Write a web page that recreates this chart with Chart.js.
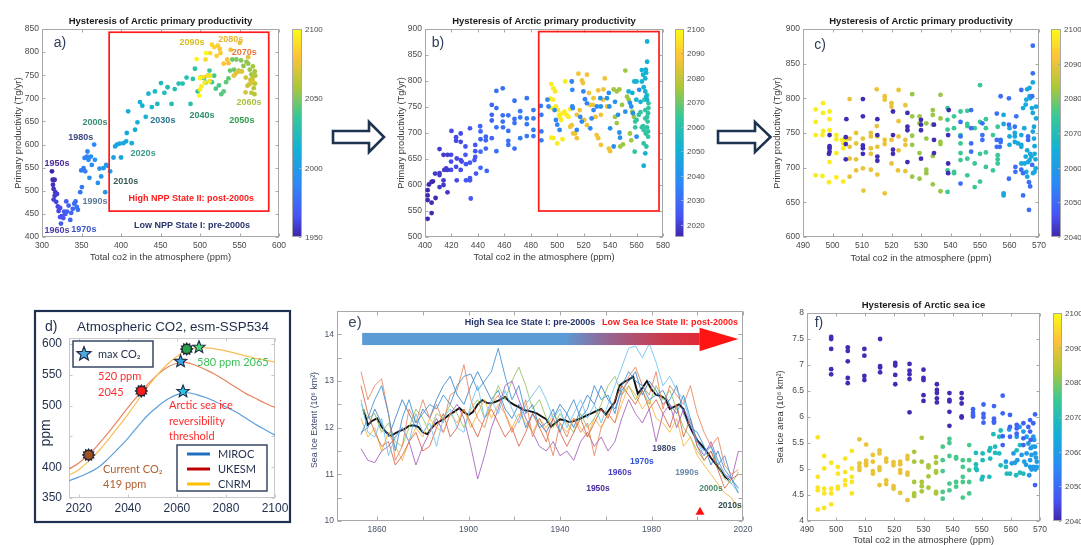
<!DOCTYPE html>
<html>
<head>
<meta charset="utf-8">
<title>Arctic primary productivity and sea ice hysteresis</title>
<script src="https://cdn.jsdelivr.net/npm/chart.js@4.4.1/dist/chart.umd.min.js"></script>
<style>
  html, body { margin: 0; padding: 0; background: #fff; }
  #page { position: relative; width: 1081px; height: 545px; overflow: hidden; background: #fff; }
  #page canvas { position: absolute; }
  #arrows { position: absolute; left: 0; top: 0; pointer-events: none; }
</style>
</head>
<body>
<div id="page">
  <canvas id="pa" width="330" height="265" style="left:0px;top:0px"></canvas>
  <canvas id="pb" width="330" height="265" style="left:380px;top:0px"></canvas>
  <canvas id="pc" width="341" height="265" style="left:740px;top:0px"></canvas>
  <canvas id="pd" width="300" height="265" style="left:0px;top:280px"></canvas>
  <canvas id="pe" width="460" height="265" style="left:300px;top:280px"></canvas>
  <canvas id="pf" width="321" height="265" style="left:760px;top:280px"></canvas>
  <svg id="arrows" width="1081" height="545">
    <path d="M333,131 L369,131 L369,122 L384,137 L369,152 L369,143 L333,143 Z" fill="#fff" stroke="#1E3350" stroke-width="2.6" stroke-linejoin="miter"/>
    <path d="M718,131 L755,131 L755,122 L770.5,137 L755,152 L755,143 L718,143 Z" fill="#fff" stroke="#1E3350" stroke-width="2.6" stroke-linejoin="miter"/>
  </svg>
</div>
<script>
// ---------------------------------------------------------------------------
// Data
// ---------------------------------------------------------------------------

// (a) one point per year, 1950 ... 2100: [total CO2 (ppm), primary productivity (Tg/yr)]
const aFirstYear = 1950;
const aPoints = [
  [312.6,542],[313.5,524],[314.7,523],[316,524],[313.9,513],[314.7,504],[316.8,497],[316,489],[319,493],[314.7,481],
  [318,476],[320,466],[321,456],[323,463],[325,445],[322.8,443],[327,441],[329.5,450],[324,429],[328,455],
  [330.7,477],[333.7,468],[331.6,455],[335.8,437],[337,452],[339,461],[340.8,472],[342.5,477],[345.4,459],[344,465],
  [348.4,497],[350.5,508],[349.7,544],[352.6,549],[354.7,542],[353.9,571],[356.8,574],[357.6,585],[358.8,567],[366,600],
  [361.9,574],[360,528],[363,556],[367,567],[370.7,517],[372.8,548],[374.9,531],[377.8,549],[380,497],[381.2,556],
  [382.9,554],[386.3,542],[390.5,572],[392.6,596],[394.7,600],[398,602],[400,572],[403,603],[406.5,607],[407.3,625],
  [409,672],[413.6,603],[417.8,632],[420.8,648],[424,692],[427,684],[431.3,660],[434.7,710],[439,681],[443,715],
  [446,688],[450.6,733],[454.9,712],[459,724],[464,688],[468,720],[473,732],[478,732],[483,745],[488,688],
  [491,742],[493.6,764],[497,715],[501,745],[505,744],[507,734],[510,749],[512,760],[515,735],[518,749],
  [520,721],[524,728],[527,709],[530,715],[533,735],[536,743],[538,760],[541,784],[543,762],[546,784],
  [549,760],[552,782],[555,770],[558.8,779],[561,775],[563,762],[565,752],[567,769],[569.3,758],[570,749],
  [569.6,732],[569,709],[568,722],[566.4,744],[565,712],[563.8,740],[562,730],[560,727],[558,745],[557.7,713],
  [565,733],[567,737],[553,758],[549,758],[545,753],[542.9,749],[561,789],[550.4,820],[538.8,805],[536,776],
  [534.5,784],[530,775],[526,798],[525,807],[522.6,814],[521,792],[518,811],[515,816],[512.8,798],[507,784],
  [504,746],[509.5,749],[512.8,749],[512,737],[506,734],[501.7,726],[500,719],[500,744],[495.7,785],[507.6,798],
  [499,706]
];
const aXTicks = [300,350,400,450,500,550,600];
const aYTicks = [400,450,500,550,600,650,700,750,800,850];
const aBarTicks = [1950,2000,2050,2100];

// (b) ensemble members, grouped by year
const bYears = [2016,2019,2022,2025,2028,2031,2033,2036,2040,2051,2062,2075,2087,2097];
const bPoints = [
  [[402,535],[402,571],[402,580],[402,590],[403,601],[405,606],[406,607],[405,566],[405,546],[408,575]],
  [[407.6,622],[411,623],[411,619],[411,596],[411,669],[414,658],[414,600],[414,609],[414.6,629],[417,658],[416,632],[417,629],[417,586]],
  [[419.7,658],[419.7,645],[419.7,629],[420,704],[423.5,692],[423.5,685],[424,651],[423.5,635],[424,609],[427,699],[427,683],[427,648],[427.8,645],[427,629]],
  [[430.6,674],[430.6,658],[431,640],[431,609],[434,709],[434,643],[434,613],[434,609],[434.6,574],[438,677],[438,665],[438,654],[437.4,648],[438.6,622]],
  [[441.7,713],[442,703],[442,688],[442,664],[442,633],[446,693],[446,686],[446,670],[446.7,627],[450.5,754],[450.5,735],[450.5,724],[450.5,690]],
  [[454,781],[454,748],[454,711],[454,665],[458.8,786],[458.8,734],[458.8,722],[459,711],[463,734],[463,704],[463,685],[463,677],[467.7,762],[467.7,727],[467.7,719],[467.7,670]],
  [[472,742],[472,730],[472,690],[477,767],[477,728],[477,717],[477,694],[482,744],[482,728],[482,706],[482,694],[487.6,752],[488,735],[488,703],[488,686]],
  [[492.6,764],[493.4,751],[498,744],[499,725],[500,716],[501.8,706],[511,799],[511.4,783],[511.4,751],[511.8,748],[514.8,706],[517.4,731],[518.6,722],[519.8,780],[521,765],[522.5,757],[525,709],[526,728],[527.5,744]],
  [[530,751],[532.6,767],[533,751],[537.6,767],[539,777],[539.4,751],[540,709],[542.7,674],[543.7,760],[546,735],[547,701],[547.5,691],[551.5,741],[555,758],[556,751],[557.3,738],[560,693],[562,783]],
  [[568,876],[568,837],[567,822],[567.3,816],[566.6,805],[565,812],[564,821],[565.4,788],[566.6,780],[567.3,770],[568,764],[565.4,637],[566.6,661],[564,799],[560,799],[558.3,799],[556.8,777],[559.8,764],[563,760],[554,780]],
  [[559,722],[559,711],[558.6,664],[560,725],[561.7,735],[563,740],[564,711],[565,713],[565.4,706],[566,764],[566.6,744],[566.6,728],[567,699],[568,731],[568,711],[568.4,722],[568.7,703],[568.7,693],[567.4,674],[565.4,680],[569,757],[569,748],[568,773],[568.7,738]],
  [[542.7,784],[545,780],[547,784],[543.7,731],[545,719],[547.7,674],[549.7,678],[551.5,820],[552.8,770],[554,764],[555,699],[556,686],[556.8,741],[558,731],[549,754]],
  [[511,715],[512,699],[513.6,699],[514.8,690],[516,814],[518.7,801],[519.5,796],[522.5,812],[524,777],[525,754],[527.5,767],[529,731],[529.8,696],[531,690],[533,735],[534.6,764],[535,784],[536,805],[537.6,751],[539,670],[540,665],[533,677],[531,782],[517,744],[514.8,735],[520.4,725],[522.5,715],[509.8,712],[511,799],[527,754]],
  [[495.5,794],[497,786],[498.5,780],[494.7,766],[496.7,764],[495.5,748],[499,751],[500.5,744],[502,731],[501.5,735],[504,738],[503,725],[495.5,691],[497,690],[500,680],[504,688],[505.5,741],[507,735],[508.5,731],[509.8,746],[506,799]]
];
const bXTicks = [400,420,440,460,480,500,520,540,560,580];
const bYTicks = [500,550,600,650,700,750,800,850,900];
const bBarTicks = [2020,2030,2040,2050,2060,2070,2080,2090,2100];

// (c) post-2040 members, grouped by year
const cYears = [2041,2051,2063,2075,2082,2090,2098];
const cPoints = [
  [[499,747],[499,731],[499,728],[499,723],[498.8,720],[504.7,770],[504.5,744],[504.5,734],[504.5,712],[510.3,799],[510.3,774],[510.3,732],[510.3,728],[510.3,720],[515.2,770],[515.2,747],[515.2,716],[515.2,710],[520.5,781],[520.5,747],[520.5,726],[520.5,720],[525.4,779],[525.4,759],[525.4,754],[525.4,708],[530,769],[530,762],[530,754],[530,713],[534.4,762],[534.4,740],[534.4,721],[539.4,783],[539.2,747],[539.2,706],[539.2,692]],
  [[543.4,766],[543.4,745],[543.4,677],[547,783],[547,757],[547,735],[547,723],[550.8,764],[550.8,747],[550.8,740],[555.7,778],[555.7,740],[555.7,730],[557,803],[557,740],[557,737],[556.7,730],[559.8,800],[559.8,762],[559.8,684],[562.3,774],[562,701],[562,694],[561.8,759],[564,812],[564,697],[564.6,692],[564.6,660],[566.3,745],[566.3,740],[566.6,679],[566.6,639],[567.9,876],[567.9,836],[567.7,803],[567,673],[567.7,704]],
  [[558,776],[558,763],[558,663],[558,660],[560,757],[560,745],[560,733],[561.8,750],[561.8,745],[561.8,737],[562.9,735],[564,747],[564,733],[564,730],[564.6,786],[565,757],[565.5,791],[565.7,798],[566,813],[566,725],[566.3,708],[566.8,815],[566.8,803],[567,800],[567,720],[567.4,716],[567.6,786],[567.9,823],[567.9,779],[567.9,752],[568.3,759],[568.3,742],[568.5,731],[568.5,720],[568.8,712],[569,788],[569,771],[568.9,699],[568.5,694],[568,692],[566.8,711],[565.5,716],[565.1,706],[565.7,694],[566,687],[564,706]],
  [[539,786],[539,769],[539,755],[539,696],[539,665],[541.2,774],[541.2,757],[541.2,694],[541.2,692],[543.4,781],[543.4,747],[543.4,735],[543.4,721],[543.4,711],[545.7,782],[545.7,763],[545.7,760],[545.7,713],[545.7,689],[548.2,757],[548.2,706],[548.2,672],[550,819],[550,766],[550,720],[550,680],[552,770],[552,757],[552,701],[552,722],[554.4,747],[554.4,696],[556,759],[556,712],[556,706],[556,718]],
  [[527,806],[527,774],[527,746],[527,733],[527,687],[529.5,774],[529.5,764],[529.5,721],[529.5,684],[531.8,764],[531.8,742],[531.8,697],[531.8,692],[534,783],[534,776],[534,762],[534,717],[534,676],[536.6,805],[536.6,771],[536.6,737],[536.6,734],[536.6,666]],
  [[505.8,799],[505.8,742],[505.8,730],[505.8,713],[505.8,687],[508,750],[508,735],[508,712],[508,696],[510.3,742],[510.3,699],[510.5,667],[513,750],[513,745],[513,728],[513,720],[513,697],[515,813],[515,760],[515.2,745],[515.2,730],[515.2,690],[517.7,803],[517.7,798],[517.7,740],[517.7,734],[517.7,663],[520,793],[520,788],[520,740],[520,706],[522.4,812],[522.4,767],[522.4,745],[522.4,725],[522.2,696],[524.7,790],[524.7,740],[524.7,733],[524.7,695]],
  [[494.3,784],[494.3,766],[494.3,747],[494.3,689],[496.8,793],[496.8,779],[496.8,753],[496.6,747],[496.6,688],[499,781],[499,770],[499,754],[499,708],[498.8,679],[501.3,747],[501.3,741],[501.3,721],[501.3,686],[503.3,740],[503.6,735],[503.6,728],[503.6,680],[504.5,740]]
];
const cXTicks = [490,500,510,520,530,540,550,560,570];
const cYTicks = [600,650,700,750,800,850,900];
const cBarTicks = [2040,2050,2060,2070,2080,2090,2100];

// (d) atmospheric CO2 under esm-SSP534 (ppm)
const dYears = [2016,2020,2024,2028,2032,2036,2040,2044,2048,2052,2056,2060,2064,2068,2072,2076,2080,2084,2088,2092,2096,2100];
const dMiroc = [378,384,391,400,414,430,447,466,484,498,510,518,521,518,513,506,498,490,480,470,461,452];
const dUkesm = [397,407,420,437,456,476,497,516,534,550,562,569,570,565,558,550,540,530,520,512,504,497];
const dCnrm  = [387,396,410,426,445,465,486,508,530,550,567,580,590,594,594,592,589,585,581,577,574,571];
const dXTicks = [2020,2040,2060,2080,2100];
const dYTicks = [350,400,450,500,550,600];
// threshold markers (year, ppm)
const dBurstYear = [2024, 2045.5, 2064];
const dBurstPpm  = [420, 524, 592];
const dStarYear  = [2069, 2061.5, 2062.5];
const dStarPpm   = [595, 572, 523];

// (e) Arctic sea ice extent (10^6 km^2): individual runs every 3 years from 1853, ensemble mean every 2 years from 1854
const eRunStart = 1853, eRunStep = 3;
const eRuns = [
  [11.85,12.2,12.6,12.9,12.3,11.5,12.2,12.6, 12.1,12.3,12.5,12.4,12.7,12.5,12.9,13.1, 13.15,12.8,13.0,13.2,13.7,13.1,12.6,12.9, 12.3,12.5,12.0,12.1,12.4,11.9,12.3,12.6, 12.2,12.4,12.9,12.6,12.7,12.3,12.9,13.2, 13.0,12.9,12.6,12.7,12.8,12.5,12.3,12.7, 12.2,11.7,11.5,11.6,11.2,11.4,10.9,10.6],
  [12.6,11.9,11.8,12.2,11.4,11.8,12.0,11.7, 12.3,11.9,12.1,11.6,12.2,12.4,12.0,11.9, 12.5,12.9,12.2,12.6,12.3,12.8,12.4,12.1, 12.5,12.7,12.9,12.6,12.2,12.4,12.0,12.3, 12.6,12.2,12.5,12.1,12.5,12.9,13.3,13.7, 13.75,13.5,13.8,13.4,12.9,13.1,12.8,12.6, 12.1,11.7,11.4,11.6,11.3,11.0,10.8,10.6],
  [13.2,12.6,12.9,13.05,12.3,11.3,11.6,12.4, 12.1,12.6,12.2,12.5,12.1,12.7,12.8,13.35, 12.6,12.2,12.0,12.5,12.7,12.3,11.9,12.2, 12.6,11.8,12.2,11.9,11.4,12.1,11.8,12.2, 11.9,12.1,11.4,12.0,12.3,12.1,12.7,13.1, 13.3,12.9,12.7,13.2,12.4,12.9,12.7,12.5, 12.9,12.3,11.9,11.6,11.8,11.2,11.0,11.1],
  [12.9,12.3,11.9,11.6,11.7,11.2,11.4,11.7, 11.9,11.5,11.6,12.0,12.3,11.8,12.0,12.4, 12.1,11.8,12.2,12.4,12.1,11.8,12.0,11.6, 11.9,12.3,12.0,11.7,12.2,11.9,11.6,11.9, 12.2,11.8,12.1,12.4,12.2,12.6,12.9,12.7, 12.5,12.8,12.4,12.6,12.3,12.0,12.5,11.8, 12.2,11.6,11.3,11.5,11.1,10.7,10.9,11.0],
  [12.2,11.8,12.0,11.5,11.9,11.6,11.3,11.7, 12.0,11.8,12.2,12.0,11.9,12.3,12.1,12.4, 12.0,12.3,12.6,12.2,12.5,12.3,12.0,12.3, 12.1,11.9,12.2,12.0,12.3,12.1,11.9,12.2, 12.0,11.8,12.2,12.0,12.3,12.1,12.5,12.9, 12.7,12.4,12.6,12.2,12.1,11.9,12.2,11.6, 11.8,11.4,11.2,11.0,10.8,10.6,10.5,10.25],
  [11.55,11.3,11.25,11.5,11.6,11.8,12.0,11.7, 11.2,11.6,11.9,12.2,11.9,12.3,12.5,12.2, 11.6,10.9,11.4,12.0,12.4,12.9,13.0,12.6, 12.2,11.9,11.6,11.5,11.7,11.4,11.5,11.3, 11.7,11.9,11.6,11.8,11.5,11.7,12.2,12.6, 12.3,12.1,12.4,11.7,12.3,12.5,12.0,12.4, 12.1,11.6,11.4,11.7,11.3,11.0,10.9,11.5],
  [12.5,12.2,12.3,11.9,12.1,11.7,11.6,12.0, 12.4,12.2,11.9,12.3,12.2,12.5,12.3,12.0, 12.4,12.6,12.2,12.5,12.9,12.6,13.0,13.3, 12.9,12.4,12.6,12.2,12.0,12.3,12.1,11.9, 12.3,12.0,12.2,12.5,12.9,13.1,12.7,12.9, 12.6,12.8,12.5,12.9,12.6,12.8,12.4,12.0, 11.8,11.5,11.3,11.5,11.2,10.9,10.8,11.05],
  [11.9,12.0,12.4,12.1,11.8,12.2,12.6,12.3, 12.0,12.4,12.2,12.6,12.9,13.1,12.7,12.5, 12.9,13.2,12.9,12.6,12.8,12.4,12.2,12.5, 12.0,12.3,12.1,11.9,12.2,12.5,12.3,12.0, 12.4,12.7,12.5,12.9,12.6,12.4,12.8,13.0, 13.2,12.7,13.0,12.8,12.5,12.6,12.9,12.3, 12.0,11.9,11.6,11.2,11.5,11.1,10.9,10.7]
];
const eRunColors = ['rgba(61,143,209,0.85)','rgba(108,195,238,0.85)','rgba(233,130,90,0.85)','rgba(212,90,60,0.8)',
                    'rgba(242,180,60,0.85)','rgba(166,93,187,0.85)','rgba(147,193,96,0.85)','rgba(47,120,196,0.8)'];
const eMeanStart = 1854, eMeanStep = 2;
const eMean = [
  12.39,12.06,12.15,12.20,12.02, 11.90,11.82,11.88,11.93,11.97, 12.04,12.05,12.02,11.90,11.86,
  12.00,12.10,12.15,12.22,12.29, 12.35,12.42,12.33,12.27,12.34, 12.50,12.59,12.53,12.52,12.56,
  12.60,12.66,12.55,12.49,12.44, 12.38,12.36,12.34,12.30,12.24, 12.18,12.02,12.10,12.18,12.16,
  12.12,12.14,12.18,12.22,12.27, 12.31,12.36,12.40,12.28,12.42, 12.55,12.90,12.98,13.03,13.09,
  12.73,12.85,13.00,12.82,12.70, 12.68,12.62,12.40,12.45,12.50, 12.40,12.10,11.90,11.73,11.62,
  11.50,11.35,11.23,11.10,10.95, 10.88
];
const eXTicks = [1860,1880,1900,1920,1940,1960,1980,2000,2020];
const eYTicks = [10,10.5,11,11.5,12,12.5,13,13.5,14,14.5];

// (f) sea ice area after 2040, grouped by year: [total CO2 (ppm), area (10^6 km^2)]
const fYears = [2041,2049,2060,2069,2076,2083,2090,2097];
const fPoints = [
  [[498.3,7.54],[498.3,7.5],[498.3,7.31],[498.3,6.92],[498.3,6.82],[504,7.34],[504,7.27],[504,7.07],[504,6.75],[504,6.65],[509.7,7.31],[509.7,7.18],[509.7,6.79],[509.7,6.71],[515.1,7.5],[515.1,6.98],[515.1,6.95],[515.1,6.86],[520.3,7.04],[520.3,6.99],[520.3,6.81],[520.3,6.63],[525.2,7.02],[525.2,6.89],[525.2,6.82],[525.2,6.73],[525.2,6.09],[530,6.91],[530,6.75],[530,6.71],[530,6.42],[530,6.31],[534.6,6.63],[534.6,6.52],[534.6,6.46],[534.6,6.36],[534.6,6.28],[538.9,6.46],[538.9,6.33],[538.9,6.3],[538.9,6.1],[538.9,5.83],[543.1,6.46],[543.1,6.36],[543.1,6.26],[543.1,6.01],[543.1,5.99]],
  [[547,6.15],[547,6.08],[547,6.01],[547,6.04],[550.6,6.24],[550.6,6.06],[550.6,5.99],[550.6,5.89],[554.2,6.21],[554.2,5.97],[554.2,5.92],[554.2,5.89],[557.2,6.41],[557.2,6.07],[557.2,5.63],[557.2,5.46],[559.7,6.04],[559.7,5.81],[559.7,5.62],[562,5.85],[562,5.78],[562,5.68],[564.3,5.88],[564.3,5.59],[564.3,5.46],[566.6,5.94],[566,5.81],[566.6,5.72],[566.8,5.56],[568.3,6.05],[568.3,4.69],[567.7,5.88]],
  [[559.4,5.76],[562,5.62],[563,5.81],[564.3,5.72],[565.4,5.62],[566,5.49],[566.8,5.4],[567.7,5.62],[568,5.56],[568.3,5.43],[568.4,5.3],[568.6,5.22],[568.9,5.14],[568.9,5.04],[567.5,5.43],[567.1,5.27],[566.6,5.17],[565.4,5.3],[565.2,5.08],[564.6,5.14],[563.7,5.27],[562.2,5.17],[561.4,5.12],[560.9,5.3],[560.3,5.11],[558.3,5.14],[566.6,5.04],[567.1,4.99],[567.7,5.04],[568.4,4.99],[566.3,4.88]],
  [[563.1,5.46],[562,5.36],[564.3,4.91],[563.1,4.93],[561.8,4.88],[559.7,4.91],[558.6,4.91],[558.3,5.04],[556.5,5.07],[556,5.62],[556.5,5.74],[554,5.67],[556,5.3],[554.6,5.43],[554.6,5.31],[552.9,5.4],[552.6,5.35],[552.6,4.85],[552.9,5.2],[550.3,5.3],[550.3,5.17],[550.3,4.85],[550,4.8],[548,5.31],[548,5.09],[548,5.01],[548.3,4.98]],
  [[545.7,5.46],[545.7,5.17],[545.7,4.98],[545.7,4.75],[545.7,4.53],[543.5,5.17],[543.5,5.04],[543.5,4.85],[543.5,4.75],[543.5,4.45],[541.2,5.23],[541.2,5.2],[541.2,4.75],[541.2,4.66],[538.9,5.58],[538.9,5.5],[538.9,5.25],[538.9,4.72],[538.9,4.59],[536.6,5.43],[536.6,5.17],[536.6,4.96],[536.6,4.56],[536.6,4.43]],
  [[534.3,5.23],[534.3,5.12],[534.3,4.93],[534.3,4.96],[534.3,4.56],[534.3,4.53],[531.7,5.07],[531.7,5.03],[531.7,4.86],[531.7,4.64],[529.4,5.6],[529.4,5.14],[529.4,4.75],[529.4,4.67],[529.4,4.57],[526.8,5.33],[526.8,5.14],[526.8,4.75],[526.8,4.53],[526.8,4.48]],
  [[524.5,5.25],[524.5,5.19],[524.5,4.93],[524.5,4.89],[524.5,4.4],[522,5.14],[522,5.09],[522,4.98],[522,4.93],[522,4.54],[519.7,5.13],[519.7,5.07],[519.7,4.67],[519.7,4.62],[517.2,5.2],[517.2,5.14],[517.2,4.78],[517.2,4.71],[514.9,5.36],[514.9,5.3],[514.9,5.03],[514.9,4.98],[514.9,4.69],[512.6,5.27],[512.6,5.14],[512.6,4.96],[512.6,4.91],[510.3,5.16],[510.3,5.11],[510.3,5.07],[510.3,5.47],[508,5.11],[508,5.04],[508,4.98],[508,5.57]],
  [[505.4,5.35],[505.4,5.01],[505.4,4.85],[505.4,4.75],[505.4,4.53],[503.1,5.2],[503.1,4.94],[503.1,4.78],[503.1,4.69],[500.6,5.04],[500.6,4.91],[500.6,4.66],[500.6,4.62],[498.3,5.12],[498.3,4.62],[498.3,4.53],[498.3,4.32],[495.9,5.25],[495.9,5.01],[495.9,4.62],[495.9,4.53],[495.9,4.25],[493.7,5.61],[493.7,4.85],[493.7,4.64],[493.7,4.59],[493.7,4.22]]
];
const fXTicks = [490,500,510,520,530,540,550,560,570];
const fYTicks = [4,4.5,5,5.5,6,6.5,7,7.5,8];
const fBarTicks = [2040,2050,2060,2070,2080,2090,2100];

// ---------------------------------------------------------------------------
// Drawing helpers
// ---------------------------------------------------------------------------
const SANS = '"Liberation Sans", Arial, Helvetica, sans-serif';
const HUMANIST = 'Lato, "Open Sans", sans-serif';
const font = (size, weight, family) => `${weight || 'normal'} ${size}px ${family || SANS}`;

// parula-like colour map
const PARULA = [
  [0.00, [62, 38, 168]],
  [0.10, [72, 82, 244]],
  [0.25, [46, 135, 247]],
  [0.42, [18, 177, 214]],
  [0.58, [55, 200, 151]],
  [0.72, [171, 199, 57]],
  [0.87, [254, 195, 56]],
  [1.00, [249, 251, 20]]
];
function parula(t) {
  t = Math.max(0, Math.min(1, t));
  for (let i = 1; i < PARULA.length; i++) {
    const [t0, c0] = PARULA[i - 1], [t1, c1] = PARULA[i];
    if (t <= t1) {
      const f = (t - t0) / (t1 - t0);
      return 'rgb(' + c0.map((v, k) => Math.round(v + (c1[k] - v) * f)).join(',') + ')';
    }
  }
  return 'rgb(249,251,20)';
}

function text(ctx, s, x, y, f, color, align, baseline, angle) {
  ctx.save();
  ctx.font = f;
  ctx.fillStyle = color;
  ctx.textAlign = align || 'center';
  ctx.textBaseline = baseline || 'middle';
  ctx.translate(x, y);
  if (angle) ctx.rotate(angle);
  ctx.fillText(s, 0, 0);
  ctx.restore();
}

function star(ctx, x, y, R, r, fill, stroke) {
  ctx.beginPath();
  for (let i = 0; i < 10; i++) {
    const a = -Math.PI / 2 + i * Math.PI / 5, rr = i % 2 ? r : R;
    ctx.lineTo(x + rr * Math.cos(a), y + rr * Math.sin(a));
  }
  ctx.closePath();
  ctx.fillStyle = fill; ctx.fill();
  ctx.lineWidth = 1.1; ctx.strokeStyle = stroke; ctx.stroke();
}

function burst(ctx, x, y, R, r, n, fill, stroke) {
  ctx.beginPath();
  for (let i = 0; i < 2 * n; i++) {
    const a = i * Math.PI / n, rr = i % 2 ? r : R;
    ctx.lineTo(x + rr * Math.cos(a), y + rr * Math.sin(a));
  }
  ctx.closePath();
  ctx.fillStyle = stroke; ctx.fill();
  ctx.beginPath(); ctx.arc(x, y, r - 1.2, 0, Math.PI * 2);
  ctx.fillStyle = fill; ctx.fill();
}

// axes box with inward tick marks
const framePlugin = {
  id: 'frame',
  beforeDatasetsDraw(chart, args, o) {
    const { ctx, chartArea: a } = chart;
    const sx = chart.scales.x, sy = chart.scales.y;
    const L = Math.round(a.left) + 0.5, R = Math.round(a.right) - 0.5;
    const T = Math.round(a.top) + 0.5, B = Math.round(a.bottom) - 0.5;
    ctx.save();
    ctx.strokeStyle = o.color || '#a8a8a8';
    ctx.lineWidth = 1;
    ctx.strokeRect(L, T, R - L, B - T);
    const len = o.tick || 3;
    ctx.beginPath();
    sx.ticks.forEach(t => {
      const p = Math.round(sx.getPixelForValue(t.value)) + 0.5;
      ctx.moveTo(p, B); ctx.lineTo(p, B - len);
      if (o.mirror) { ctx.moveTo(p, T); ctx.lineTo(p, T + len); }
    });
    sy.ticks.forEach(t => {
      const p = Math.round(sy.getPixelForValue(t.value)) + 0.5;
      ctx.moveTo(L, p); ctx.lineTo(L + len, p);
      if (o.mirror) { ctx.moveTo(R, p); ctx.lineTo(R - len, p); }
    });
    ctx.stroke();
    ctx.restore();
  }
};

// vertical colour bar to the right of the axes
const colorbarPlugin = {
  id: 'colorbar',
  afterDraw(chart, args, o) {
    if (!o || o.x === undefined) return;
    const { ctx, chartArea: a } = chart;
    const top = a.top, bot = a.bottom;
    ctx.save();
    const g = ctx.createLinearGradient(0, bot, 0, top);
    PARULA.forEach(([t, c]) => g.addColorStop(t, `rgb(${c.join(',')})`));
    ctx.fillStyle = g;
    ctx.fillRect(o.x, top, o.w, bot - top);
    ctx.strokeStyle = '#a8a8a8'; ctx.lineWidth = 1;
    ctx.strokeRect(o.x + 0.5, top + 0.5, o.w - 1, bot - top - 1);
    ctx.beginPath();
    o.ticks.forEach(v => {
      const y = Math.round(bot - (v - o.min) / (o.max - o.min) * (bot - top)) + 0.5;
      ctx.moveTo(o.x + o.w - 1, y); ctx.lineTo(o.x + o.w - 3, y);
      text(ctx, String(v), o.x + o.w + 3, y, font(8), '#4a4a4a', 'left');
    });
    ctx.stroke();
    ctx.restore();
  }
};

function fixedTicks(list) {
  return s => { s.ticks = list.map(v => ({ value: v })); };
}

function scatterPanel(id, o) {
  const cv = document.getElementById(id), W = cv.width, H = cv.height;
  const tickStyle = pad => ({
    font: { family: SANS, size: 8.5 }, color: '#4a4a4a', padding: pad,
    maxRotation: 0, minRotation: 0, autoSkip: false, callback: v => String(v)
  });
  return new Chart(cv, {
    type: 'scatter',
    data: { datasets: o.datasets },
    options: {
      responsive: false, animation: false, devicePixelRatio: 1, events: [],
      layout: { padding: { left: 0, top: o.area.t, right: W - o.area.r, bottom: 0 } },
      plugins: {
        legend: { display: false }, tooltip: { enabled: false },
        frame: { color: '#a8a8a8', tick: 3, mirror: true },
        colorbar: o.colorbar
      },
      scales: {
        x: { type: 'linear', min: o.x.min, max: o.x.max, afterBuildTicks: fixedTicks(o.x.ticks),
             ticks: tickStyle(4), grid: { display: false, drawTicks: false }, border: { display: false },
             afterFit: s => { s.height = H - o.area.b; } },
        y: { type: 'linear', min: o.y.min, max: o.y.max, afterBuildTicks: fixedTicks(o.y.ticks),
             ticks: tickStyle(3), grid: { display: false, drawTicks: false }, border: { display: false },
             afterFit: s => { s.width = o.area.l; } }
      }
    },
    plugins: [framePlugin, colorbarPlugin, {
      id: 'panelText',
      afterDraw(chart) {
        const ctx = chart.ctx, a = chart.chartArea;
        const cx = (a.left + a.right) / 2, cy = (a.top + a.bottom) / 2;
        if (o.deco) o.deco(chart);
        text(ctx, o.title, cx, o.titleY, font(9.5, 'bold'), '#1a1a1a');
        text(ctx, o.xTitle, cx, o.xTitleY, font(9.3), '#3a3a3a');
        text(ctx, o.yTitle, o.yTitleX, cy, font(9.3), '#3a3a3a', 'center', 'middle', -Math.PI / 2);
        text(ctx, o.letter[0], o.letter[1], o.letter[2], font(14), '#2E3D5C');
      }
    }]
  });
}

function groupSets(years, groups, y0, y1) {
  return groups.map((pts, i) => ({
    data: pts.map(p => ({ x: p[0], y: p[1] })),
    backgroundColor: parula((years[i] - y0) / (y1 - y0)),
    borderWidth: 0, pointRadius: 2.4, pointHoverRadius: 2.4
  }));
}

function redBox(chart, box) {
  const ctx = chart.ctx, xs = chart.scales.x, ys = chart.scales.y;
  const x0 = xs.getPixelForValue(box[0]), x1 = xs.getPixelForValue(box[2]);
  const y0 = ys.getPixelForValue(box[3]), y1 = ys.getPixelForValue(box[1]);
  ctx.save();
  ctx.strokeStyle = '#FF1A1A'; ctx.lineWidth = 1.7;
  ctx.strokeRect(x0, y0, x1 - x0, y1 - y0);
  ctx.restore();
}

// ---------------------------------------------------------------------------
// (a) Hysteresis of Arctic primary productivity, 1950-2100
// ---------------------------------------------------------------------------
const aLabels = [
  ['2090s', 490, 820, '#D6BE1E'], ['2080s', 539, 828, '#E6B52A'], ['2070s', 556, 800, '#E8783A'],
  ['2060s', 562, 690, '#A9C23E'], ['2050s', 553, 653, '#2E9E4A'], ['2040s', 502.5, 662, '#2C8C6E'],
  ['2030s', 453, 653, '#2B7490'], ['2020s', 428, 580, '#3A9A88'], ['2010s', 406, 519, '#3A5A58'],
  ['2000s', 367, 647, '#3A8C78'], ['1980s', 349, 616, '#3E4A82'], ['1990s', 367, 476, '#5C7C9A'],
  ['1950s', 319, 560, '#4B2A9C'], ['1960s', 319, 413, '#4A3DAA'], ['1970s', 353, 417, '#3A52C6']
];
scatterPanel('pa', {
  area: { l: 42, t: 29, r: 279, b: 237 },
  x: { min: 300, max: 600, ticks: aXTicks },
  y: { min: 400, max: 850, ticks: aYTicks },
  datasets: [{
    data: aPoints.map(p => ({ x: p[0], y: p[1] })),
    backgroundColor: aPoints.map((p, i) => parula((aFirstYear + i - 1950) / 150)),
    borderWidth: 0, pointRadius: 2.4, pointHoverRadius: 2.4
  }],
  colorbar: { x: 292, w: 10, min: 1950, max: 2100, ticks: aBarTicks },
  title: 'Hysteresis of Arctic primary productivity', titleY: 21,
  xTitle: 'Total co2 in the atmosphere (ppm)', xTitleY: 257,
  yTitle: 'Primary productivity (Tg/yr)', yTitleX: 18,
  letter: ['a)', 60, 43],
  deco(chart) {
    const ctx = chart.ctx, xs = chart.scales.x, ys = chart.scales.y;
    redBox(chart, [385, 456, 587, 843]);
    aLabels.forEach(([s, x, y, c]) => text(ctx, s, xs.getPixelForValue(x), ys.getPixelForValue(y), font(9, 'bold'), c));
    text(ctx, 'High NPP State II: post-2000s', xs.getPixelForValue(489), ys.getPixelForValue(484), font(9, 'bold'), '#FF1A1A');
    text(ctx, 'Low NPP State I: pre-2000s', xs.getPixelForValue(490), ys.getPixelForValue(424), font(9, 'bold'), '#26336A');
  }
});

// ---------------------------------------------------------------------------
// (b) 2015-2100
// ---------------------------------------------------------------------------
scatterPanel('pb', {
  area: { l: 45, t: 29, r: 283, b: 237 },
  x: { min: 400, max: 580, ticks: bXTicks },
  y: { min: 500, max: 900, ticks: bYTicks },
  datasets: groupSets(bYears, bPoints, 2015, 2100),
  colorbar: { x: 295, w: 9, min: 2015, max: 2100, ticks: bBarTicks },
  title: 'Hysteresis of Arctic primary productivity', titleY: 21,
  xTitle: 'Total co2 in the atmosphere (ppm)', xTitleY: 257,
  yTitle: 'Primary productivity (Tg/yr)', yTitleX: 21,
  letter: ['b)', 58, 43],
  deco(chart) { redBox(chart, [486, 550, 577, 895]); }
});

// ---------------------------------------------------------------------------
// (c) 2040-2100
// ---------------------------------------------------------------------------
scatterPanel('pc', {
  area: { l: 63, t: 29, r: 299, b: 237 },
  x: { min: 490, max: 570, ticks: cXTicks },
  y: { min: 600, max: 900, ticks: cYTicks },
  datasets: groupSets(cYears, cPoints, 2040, 2100),
  colorbar: { x: 311, w: 10, min: 2040, max: 2100, ticks: cBarTicks },
  title: 'Hysteresis of Arctic primary productivity', titleY: 21,
  xTitle: 'Total co2 in the atmosphere (ppm)', xTitleY: 258,
  yTitle: 'Primary productivity (Tg/yr)', yTitleX: 37,
  letter: ['c)', 80, 45]
});

// ---------------------------------------------------------------------------
// (f) Hysteresis of Arctic sea ice, 2040-2100
// ---------------------------------------------------------------------------
scatterPanel('pf', {
  area: { l: 47, t: 33, r: 280, b: 241 },
  x: { min: 490, max: 570, ticks: fXTicks },
  y: { min: 4, max: 8, ticks: fYTicks },
  datasets: groupSets(fYears, fPoints, 2040, 2100),
  colorbar: { x: 293, w: 9, min: 2040, max: 2100, ticks: fBarTicks },
  title: 'Hysteresis of Arctic sea ice', titleY: 25,
  xTitle: 'Total co2 in the atmosphere (ppm)', xTitleY: 260,
  yTitle: 'Sea ice area (10\u2076 km\u00B2)', yTitleX: 20,
  letter: ['f)', 59, 43]
});

// ---------------------------------------------------------------------------
// (d) Atmospheric CO2, esm-SSP534
// ---------------------------------------------------------------------------
(function () {
  const cv = document.getElementById('pd'), W = cv.width, H = cv.height;
  const area = { l: 69, t: 58, r: 275, b: 218 };
  const line = (vals, color) => ({
    data: dYears.map((x, i) => ({ x, y: vals[i] })),
    borderColor: color, borderWidth: 1.2, pointRadius: 0, tension: 0.4, fill: false
  });
  const navy = '#1F2D4A';
  new Chart(cv, {
    type: 'line',
    data: { datasets: [line(dCnrm, '#F6BE55'), line(dUkesm, '#E8845E'), line(dMiroc, '#5C9FDA')] },
    options: {
      responsive: false, animation: false, devicePixelRatio: 1, events: [],
      layout: { padding: { left: 0, top: area.t, right: W - area.r, bottom: 0 } },
      plugins: { legend: { display: false }, tooltip: { enabled: false }, frame: { color: '#c8c8c8', tick: 3, mirror: true } },
      scales: {
        x: { type: 'linear', min: 2016, max: 2100, afterBuildTicks: fixedTicks(dXTicks),
             ticks: { font: { family: SANS, size: 12 }, color: navy, padding: 3, maxRotation: 0, autoSkip: false, callback: v => String(v) },
             grid: { display: false, drawTicks: false }, border: { display: false },
             afterFit: s => { s.height = H - area.b; } },
        y: { type: 'linear', min: 350, max: 610, afterBuildTicks: fixedTicks(dYTicks),
             ticks: { font: { family: SANS, size: 12 }, color: navy, padding: 7, autoSkip: false, callback: v => (v === 450 ? '' : String(v)) },
             grid: { display: false, drawTicks: false }, border: { display: false },
             afterFit: s => { s.width = area.l; } }
      }
    },
    plugins: [framePlugin, {
      id: 'co2Deco',
      afterDraw(chart) {
        const ctx = chart.ctx, xs = chart.scales.x, ys = chart.scales.y;
        ctx.save();
        // panel border
        ctx.strokeStyle = '#1E3150'; ctx.lineWidth = 2.2;
        ctx.strokeRect(35, 31, 255, 211);
        text(ctx, 'd)', 45, 47, font(14), navy, 'left');
        text(ctx, 'Atmospheric CO2, esm-SSP534', 77, 47, font(13.4), navy, 'left');
        text(ctx, 'ppm', 46, 153, font(14), navy, 'center', 'middle', -Math.PI / 2);

        // key for the star marker
        ctx.fillStyle = '#fff'; ctx.fillRect(73, 61, 80, 26);
        ctx.strokeStyle = '#2A3A5A'; ctx.lineWidth = 1.4; ctx.strokeRect(73, 61, 80, 26);
        star(ctx, 84, 74, 7.5, 3.2, '#4FA8E0', '#1E2A44');
        text(ctx, 'max CO\u2082', 98, 74, font(11, 'normal', HUMANIST), navy, 'left');

        // model legend
        ctx.fillStyle = '#fff'; ctx.fillRect(177, 165, 90, 46);
        ctx.strokeStyle = '#2A3A5A'; ctx.lineWidth = 1.4; ctx.strokeRect(177, 165, 90, 46);
        [['MIROC', '#1F6FC0', 174], ['UKESM', '#C00000', 189], ['CNRM', '#FFC000', 204]].forEach(([s, c, y]) => {
          ctx.strokeStyle = c; ctx.lineWidth = 3;
          ctx.beginPath(); ctx.moveTo(187, y); ctx.lineTo(210, y); ctx.stroke();
          text(ctx, s, 218, y, font(11, 'normal', HUMANIST), navy, 'left');
        });

        // threshold markers
        const burstFill = ['#A2501F', '#FF1A1A', '#25A24A'];
        dBurstYear.forEach((yr, i) => burst(ctx, xs.getPixelForValue(yr), ys.getPixelForValue(dBurstPpm[i]), 7, 5.2, 12, burstFill[i], '#22283A'));
        const starFill = ['#4CD47A', '#3DA6E6', '#27C6E8'];
        dStarYear.forEach((yr, i) => star(ctx, xs.getPixelForValue(yr), ys.getPixelForValue(dStarPpm[i]), 6.5, 2.8, starFill[i], '#1E2A44'));

        // annotations
        const hf = font(11, 'normal', HUMANIST);
        text(ctx, '520 ppm', 98, 96, hf, '#FF2A2A', 'left');
        text(ctx, '2045', 98, 112, hf, '#FF2A2A', 'left');
        text(ctx, '580 ppm 2065', 197, 82, hf, '#3CC158', 'left');
        text(ctx, 'Arctic sea ice', 169, 125, hf, '#FF2A2A', 'left');
        text(ctx, 'reversibility', 169, 141, hf, '#FF2A2A', 'left');
        text(ctx, 'threshold', 169, 156, hf, '#FF2A2A', 'left');
        text(ctx, 'Current CO\u2082', 103, 189, hf, '#B3602E', 'left');
        text(ctx, '419 ppm', 103, 204, hf, '#B3602E', 'left');
        ctx.restore();
      }
    }]
  });
})();

// ---------------------------------------------------------------------------
// (e) Arctic sea ice extent, 1850-2018
// ---------------------------------------------------------------------------
(function () {
  const cv = document.getElementById('pe'), W = cv.width, H = cv.height;
  const area = { l: 37, t: 31, r: 443, b: 241 };
  const runSets = eRuns.map((vals, k) => ({
    data: vals.map((v, i) => ({ x: eRunStart + i * eRunStep, y: v })),
    borderColor: eRunColors[k], borderWidth: 1, pointRadius: 0, tension: 0, fill: false
  }));
  const meanSet = {
    data: eMean.map((v, i) => ({ x: eMeanStart + i * eMeanStep, y: v })),
    borderColor: '#111', borderWidth: 1.9, pointRadius: 0, tension: 0, fill: false
  };
  const decadeLabels = [
    ['1980s', 1985.5, 11.56, '#3C4A6E'], ['1970s', 1975.8, 11.27, '#2F52D6'],
    ['1960s', 1966.2, 11.04, '#4A3CC0'], ['1950s', 1956.6, 10.69, '#4A2AA0'],
    ['1990s', 1995.5, 11.04, '#6A88A8'], ['2000s', 2006.0, 10.69, '#4A8A6A'],
    ['2010s', 2014.3, 10.33, '#2F4F4F']
  ];
  new Chart(cv, {
    type: 'line',
    data: { datasets: runSets.concat([meanSet]) },
    options: {
      responsive: false, animation: false, devicePixelRatio: 1, events: [],
      layout: { padding: { left: 0, top: area.t, right: W - area.r, bottom: 0 } },
      plugins: { legend: { display: false }, tooltip: { enabled: false }, frame: { color: '#a8a8a8', tick: 4, mirror: true } },
      scales: {
        x: { type: 'linear', min: 1842.5, max: 2020, afterBuildTicks: fixedTicks(eXTicks),
             ticks: { font: { family: SANS, size: 8.5 }, color: '#4a5468', padding: 4, maxRotation: 0, autoSkip: false,
                      callback: v => ((v - 1860) % 40 === 0 ? String(v) : '') },
             grid: { display: false, drawTicks: false }, border: { display: false },
             afterFit: s => { s.height = H - area.b; } },
        y: { type: 'linear', min: 10, max: 14.5, afterBuildTicks: fixedTicks(eYTicks),
             ticks: { font: { family: SANS, size: 8.5 }, color: '#4a5468', padding: 3, autoSkip: false,
                      callback: v => (Number.isInteger(v) ? String(v) : '') },
             grid: { display: false, drawTicks: false }, border: { display: false },
             afterFit: s => { s.width = area.l; } }
      }
    },
    plugins: [framePlugin, {
      id: 'iceDeco',
      afterDraw(chart) {
        const ctx = chart.ctx, xs = chart.scales.x, ys = chart.scales.y;
        const px = v => xs.getPixelForValue(v), py = v => ys.getPixelForValue(v);
        ctx.save();
        // regime arrow: blue before 2000 fading into red afterwards
        const x0 = px(1853.5), x1 = px(2001), x2 = px(2018);
        const g = ctx.createLinearGradient(x0, 0, x1, 0);
        g.addColorStop(0, '#5B9BD5'); g.addColorStop(0.6, '#5B9BD5'); g.addColorStop(0.7, '#8A6F9F');
        g.addColorStop(0.8, '#AE5272'); g.addColorStop(0.9, '#CC3848'); g.addColorStop(1, '#E22A36');
        ctx.fillStyle = g;
        ctx.fillRect(x0, py(14.03), x1 - x0, py(13.77) - py(14.03));
        ctx.fillStyle = '#FF1414';
        ctx.fillRect(x1, py(14.03), 1, py(13.77) - py(14.03));
        ctx.beginPath();
        ctx.moveTo(x1, py(14.03)); ctx.lineTo(x1, py(14.14)); ctx.lineTo(x2, (py(14.03) + py(13.77)) / 2);
        ctx.lineTo(x1, py(13.64)); ctx.lineTo(x1, py(13.77)); ctx.closePath(); ctx.fill();

        text(ctx, 'High Sea Ice State I: pre-2000s', px(1926.9), py(14.25), font(9, 'bold'), '#23336A');
        text(ctx, 'Low Sea Ice State II: post-2000s', px(1988.1), py(14.25), font(9, 'bold'), '#FF1A1A');
        text(ctx, 'e)', 55, 43, font(15), '#3A4660');
        text(ctx, 'Sea Ice Extent (10\u2076 km\u00B2)', 15, 140, font(8.8), '#3A4A6A', 'center', 'middle', -Math.PI / 2);

        decadeLabels.forEach(([s, x, y, c]) => text(ctx, s, px(x), py(y), font(8.5, 'bold'), c));

        // marker at the regime shift
        const tx = px(2001.2), ty = py(10.21);
        ctx.fillStyle = '#FF1010';
        ctx.beginPath(); ctx.moveTo(tx, ty - 4.5); ctx.lineTo(tx + 4.5, ty + 3.5); ctx.lineTo(tx - 4.5, ty + 3.5); ctx.closePath(); ctx.fill();
        ctx.restore();
      }
    }]
  });
})();
</script>
</body>
</html>
